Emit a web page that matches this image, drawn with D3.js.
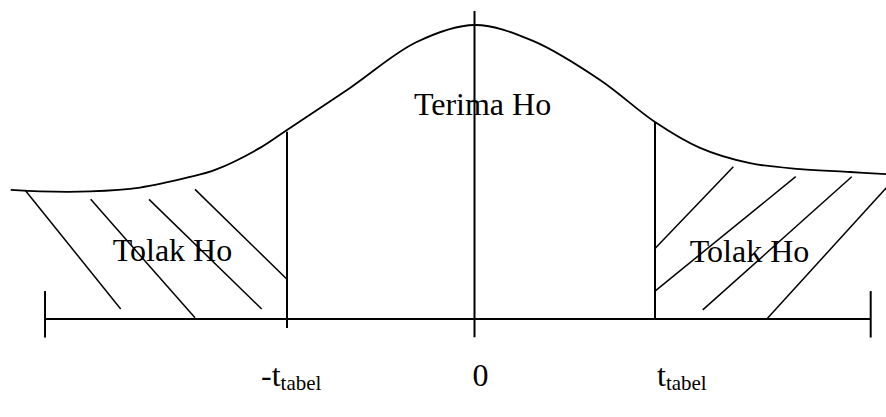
<!DOCTYPE html>
<html>
<head>
<meta charset="utf-8">
<script src="https://cdn.jsdelivr.net/npm/d3@7"></script>
<style>
  html, body { margin: 0; padding: 0; background: #fff; }
  svg { display: block; }
  text { font-family: "Liberation Serif", "Times New Roman", serif; fill: #000; }
</style>
</head>
<body>
<div id="chart"></div>
<script>
// Kurva distribusi t (sumbu x dalam satuan t, sumbu y kepadatan relatif)
const curveT = [-4.947, -4.635, -4.101, -3.568, -3.035, -2.768, -2.288, -2.0, -1.328, -0.617, 0, 0.648, 1.391, 2.0, 2.499, 3.053, 3.607, 4.161, 4.560]
const curveY = [0.439, 0.434, 0.434, 0.447, 0.483, 0.507, 0.582, 0.643, 0.786, 0.942, 1.0, 0.946, 0.813, 0.670, 0.582, 0.530, 0.510, 0.500, 0.493]

// Nilai kritis dan garis tengah
const critT = [-2, 2]
const critTop = [0.637, 0.670]
const critBottom = [-0.031, 0]
const centerT = 0
const centerTop = 1.048
const centerBottom = -0.062

// Ujung garis sumbu
const axisEnds = [-4.581, 4.390]
const axisTickTop = 0.095
const axisTickBottom = -0.063

// Arsiran daerah tolak (t1, y1, t2, y2)
const hatchLeft = [
    [-4.795, 0.439, -3.774, 0.034],
    [-4.094, 0.407, -2.981, 0.004],
    [-3.472, 0.407, -2.270, 0.034],
    [-2.981, 0.441, -2.003, 0.136]
]
const hatchRight = [
    [2.868, 0.518, 2.0, 0.240],
    [3.559, 0.484, 2.0, 0.095],
    [4.180, 0.484, 2.529, 0.031],
    [4.581, 0.452, 3.244, 0.002]
]

// Label daerah
const regionLabels = ["Tolak Ho", "Terima Ho", "Tolak Ho"]
const regionLabelT = [-3.222, 0.089, 3.047]
const regionLabelY = [0.197, 0.694, 0.195]

// Label sumbu
const tickValues = [-2, 0, 2]
const tickMain = ["-t", "0", "t"]
const tickSub = ["tabel", "", "tabel"]

const width = 886, height = 417

const svg = d3.select("#chart")
    .append("svg")
    .attr("width", width)
    .attr("height", height)

// Skala (digambar tangan, jadi sedikit tidak simetris)
const x = d3.scaleLinear().domain([-2, 0, 2]).range([287, 474.5, 655])
const y = d3.scaleLinear().domain([0, 1]).range([319, 25])

// Kurva
const line = d3.line()
    .x(d => x(d[0]))
    .y(d => y(d[1]))
    .curve(d3.curveCatmullRom.alpha(0.5))

svg.append("path")
    .datum(curveT.map((t, i) => [t, curveY[i]]))
    .attr("d", line)
    .attr("fill", "none")
    .attr("stroke", "#000")
    .attr("stroke-width", 1.8)

// Sumbu horizontal
svg.append("line")
    .attr("x1", x(axisEnds[0])).attr("x2", x(axisEnds[1]))
    .attr("y1", y(0)).attr("y2", y(0))
    .attr("stroke", "#000")
    .attr("stroke-width", 2)

svg.append("g")
    .selectAll("line")
    .data(axisEnds)
    .join("line")
    .attr("x1", d => x(d)).attr("x2", d => x(d))
    .attr("y1", y(axisTickTop)).attr("y2", y(axisTickBottom))
    .attr("stroke", "#000")
    .attr("stroke-width", 2)

// Garis kritis dan garis tengah
svg.append("g")
    .selectAll("line")
    .data(critT)
    .join("line")
    .attr("x1", d => x(d)).attr("x2", d => x(d))
    .attr("y1", (d, i) => y(critTop[i]))
    .attr("y2", (d, i) => y(critBottom[i]))
    .attr("stroke", "#000")
    .attr("stroke-width", 2)

svg.append("line")
    .attr("x1", x(centerT)).attr("x2", x(centerT))
    .attr("y1", y(centerTop)).attr("y2", y(centerBottom))
    .attr("stroke", "#000")
    .attr("stroke-width", 2)

// Arsiran
svg.append("g")
    .selectAll("line")
    .data(hatchLeft.concat(hatchRight))
    .join("line")
    .attr("x1", d => x(d[0])).attr("y1", d => y(d[1]))
    .attr("x2", d => x(d[2])).attr("y2", d => y(d[3]))
    .attr("stroke", "#000")
    .attr("stroke-width", 1.5)

// Label daerah
svg.append("g")
    .selectAll("text")
    .data(regionLabels)
    .join("text")
    .attr("x", (d, i) => x(regionLabelT[i]))
    .attr("y", (d, i) => y(regionLabelY[i]))
    .attr("text-anchor", "middle")
    .style("font-size", "32px")
    .text(d => d)

// Label nilai t
const tickDx = [-26, 6, 2]
const tickAnchor = ["start", "middle", "start"]
const ticks = svg.append("g")
    .selectAll("text")
    .data(tickValues)
    .join("text")
    .attr("x", (d, i) => x(d) + tickDx[i])
    .attr("y", y(0) + 67)
    .attr("text-anchor", (d, i) => tickAnchor[i])
    .style("font-size", "32px")

ticks.append("tspan").text((d, i) => tickMain[i])
ticks.append("tspan")
    .attr("dy", 4)
    .style("font-size", "21px")
    .text((d, i) => tickSub[i])
</script>
</body>
</html>
